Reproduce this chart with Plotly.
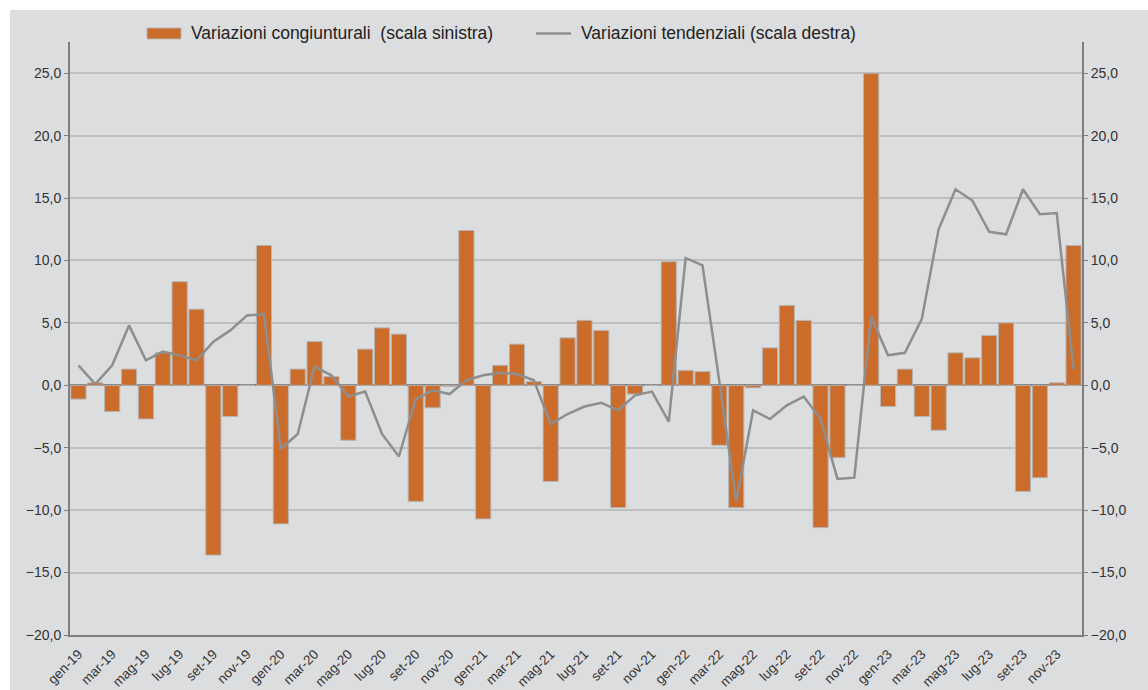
import plotly.graph_objects as go

categories = [
    "gen-19", "feb-19", "mar-19", "apr-19", "mag-19", "giu-19", "lug-19", "ago-19", "set-19", "ott-19", "nov-19", "dic-19",
    "gen-20", "feb-20", "mar-20", "apr-20", "mag-20", "giu-20", "lug-20", "ago-20", "set-20", "ott-20", "nov-20", "dic-20",
    "gen-21", "feb-21", "mar-21", "apr-21", "mag-21", "giu-21", "lug-21", "ago-21", "set-21", "ott-21", "nov-21", "dic-21",
    "gen-22", "feb-22", "mar-22", "apr-22", "mag-22", "giu-22", "lug-22", "ago-22", "set-22", "ott-22", "nov-22", "dic-22",
    "gen-23", "feb-23", "mar-23", "apr-23", "mag-23", "giu-23", "lug-23", "ago-23", "set-23", "ott-23", "nov-23", "dic-23",
]

congiunturali = [
    -1.1, 0.2, -2.1, 1.3, -2.7, 2.6, 8.3, 6.1, -13.6, -2.5, 0.0, 11.2,
    -11.1, 1.3, 3.5, 0.7, -4.4, 2.9, 4.6, 4.1, -9.3, -1.8, -0.1, 12.4,
    -10.7, 1.6, 3.3, 0.3, -7.7, 3.8, 5.2, 4.4, -9.8, -0.7, 0.0, 9.9,
    1.2, 1.1, -4.8, -9.8, -0.2, 3.0, 6.4, 5.2, -11.4, -5.8, 0.0, 25.0,
    -1.7, 1.3, -2.5, -3.6, 2.6, 2.2, 4.0, 5.0, -8.5, -7.4, 0.2, 11.2,
]

tendenziali = [
    1.6, 0.1, 1.6, 4.8, 2.0, 2.7, 2.4, 2.0, 3.5, 4.4, 5.6, 5.7,
    -5.1, -3.9, 1.5, 0.8, -0.9, -0.5, -3.9, -5.7, -1.1, -0.4, -0.7, 0.4,
    0.8, 1.0, 0.9, 0.4, -3.1, -2.3, -1.7, -1.4, -2.0, -0.8, -0.5, -2.9,
    10.2, 9.6, 0.3, -9.3, -2.0, -2.7, -1.6, -0.9, -2.7, -7.5, -7.4, 5.5,
    2.4, 2.6, 5.3, 12.5, 15.7, 14.8, 12.3, 12.1, 15.7, 13.7, 13.8, 1.3,
]

series_names = ["Variazioni congiunturali  (scala sinistra)", "Variazioni tendenziali (scala destra)"]
tick_labels = categories[::2]
y_ticks = [-20, -15, -10, -5, 0, 5, 10, 15, 20, 25]

ORANGE = "#CB6C2B"
LINE_GREY = "#8E8E8E"
AXIS_GREY = "#7F7F7F"
GRID_GREY = "#BEBFC1"
PANEL = "#DCDDDF"
FONT = "Liberation Sans"

fig = go.Figure()
fig.add_trace(go.Bar(
    x=categories, y=congiunturali,
    name=series_names[0],
    marker=dict(color=ORANGE, line=dict(color="#B5B5B5", width=1)),
    yaxis="y",
))
fig.add_trace(go.Scatter(
    x=categories, y=tendenziali,
    name=series_names[1],
    mode="lines",
    line=dict(color=LINE_GREY, width=2.5),
    yaxis="y2",
))

W, H = 1148, 690
ml, mr, mt, mb = 70, 66, 42, 55
pw = W - ml - mr
ph = H - mt - mb

def px_x(p):
    return (p - ml) / pw

def px_y(p):
    return (H - mb - p) / ph

shapes = [
    dict(type="rect", xref="paper", yref="paper", layer="below",
         x0=px_x(10), x1=px_x(W + 5), y0=px_y(H + 5), y1=px_y(10),
         fillcolor=PANEL, line=dict(width=0)),
    # legend keys
    dict(type="rect", xref="paper", yref="paper", layer="above",
         x0=px_x(147), x1=px_x(181), y0=px_y(39), y1=px_y(28),
         fillcolor=ORANGE, line=dict(color="#B5B5B5", width=1)),
    dict(type="line", xref="paper", yref="paper", layer="above",
         x0=px_x(536), x1=px_x(571), y0=px_y(33.5), y1=px_y(33.5),
         line=dict(color=LINE_GREY, width=2.5)),
]

annotations = [
    dict(text=series_names[0], xref="paper", yref="paper",
         x=px_x(189), y=px_y(33.5), xanchor="left", yanchor="middle",
         showarrow=False, font=dict(family=FONT, size=17.5, color="#222222")),
    dict(text=series_names[1], xref="paper", yref="paper",
         x=px_x(579), y=px_y(33.5), xanchor="left", yanchor="middle",
         showarrow=False, font=dict(family=FONT, size=17.5, color="#222222")),
]

fig.update_layout(
    width=W, height=H,
    margin=dict(l=ml, r=mr, t=mt, b=mb, pad=0),
    paper_bgcolor="white",
    plot_bgcolor="rgba(0,0,0,0)",
    separators=",.",
    font=dict(family=FONT, size=12, color="#333333"),
    bargap=0.1,
    showlegend=False,
    xaxis=dict(
        type="category",
        tickmode="array",
        tickvals=tick_labels,
        ticktext=tick_labels,
        tickangle=-45,
        tickfont=dict(family=FONT, size=13.5, color="#333333"),
        showgrid=False,
        showline=True, linecolor=AXIS_GREY, linewidth=2,
        ticks="outside", ticklen=4, tickcolor="rgba(0,0,0,0)",
        automargin=False,
        range=[-0.5, len(categories) - 0.5],
    ),
    yaxis=dict(
        range=[-20, 27.5],
        tickvals=y_ticks,
        tickformat=".1f",
        showgrid=True, gridcolor=GRID_GREY, gridwidth=1.5,
        zeroline=True, zerolinecolor=AXIS_GREY, zerolinewidth=2,
        showline=True, linecolor=AXIS_GREY, linewidth=2,
        ticks="outside", ticklen=4, tickcolor=AXIS_GREY,
        tickfont=dict(family=FONT, size=14, color="#333333"),
        automargin=False,
    ),
    yaxis2=dict(
        range=[-20, 27.5],
        tickvals=y_ticks,
        tickformat=".1f",
        overlaying="y", side="right",
        showgrid=False, zeroline=False,
        showline=True, linecolor=AXIS_GREY, linewidth=2,
        ticks="outside", ticklen=4, tickcolor=AXIS_GREY,
        tickfont=dict(family=FONT, size=14, color="#333333"),
        automargin=False,
    ),
    shapes=shapes,
    annotations=annotations,
)

fig.write_html(
    "out.html",
    config={"displayModeBar": False},
    post_script="document.body.style.margin='0px';document.body.style.overflow='hidden';",
)
